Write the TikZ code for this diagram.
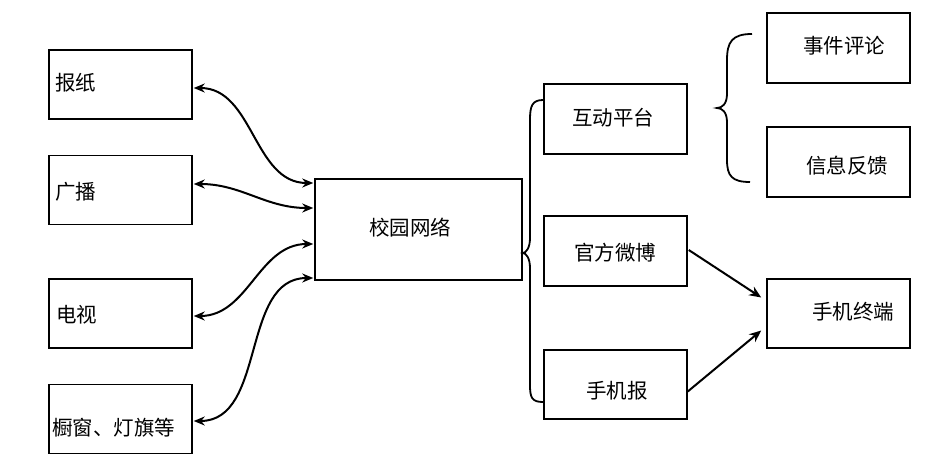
\documentclass[tikz,border=0pt]{standalone}
\usepackage{fontspec}
\newfontfamily\cjk{Noto Sans CJK SC}
\usetikzlibrary{arrows.meta}
\begin{document}
\begin{tikzpicture}[x=1pt,y=-1pt,
  box/.style={draw,line width=1.5pt,minimum width=143pt,minimum height=69pt,inner sep=0pt},
  txt/.style={font=\cjk\fontsize{20.5}{23}\selectfont,inner sep=0pt},
  conn/.style={line width=2pt,{Stealth[length=11pt,width=9pt]}-{Stealth[length=11pt,width=9pt]}},
  arr/.style={line width=2pt,-{Stealth[length=12pt,width=10pt]}},
  brace/.style={line width=1.8pt}]
\useasboundingbox (0,0) rectangle (929,465);
% left boxes
\node[box] (bz) at (120.5,84.5) {};
\node[box] (gb) at (120.5,190) {};
\node[box] (ds) at (120.5,313.5) {};
\node[box] (cc) at (120.5,419) {};
\node[txt,anchor=west] (bzt) at (55,83) {报纸};
\node[txt,anchor=west] (gbt) at (55,192) {广播};
\node[txt,anchor=west] (dst) at (56,315) {电视};
\node[txt,anchor=west] (cct) at (52,428) {橱窗、灯旗等};
% centre
\node[box,minimum width=207pt,minimum height=101pt] (xy) at (418.5,229.5) {};
\node[txt] (xyt) at (410,228) {校园网络};
% middle column
\node[box,minimum height=70pt] (hd) at (615.5,119) {};
\node[box,minimum height=70pt] (gf) at (615.5,251) {};
\node[box] (sjb) at (615.5,384.5) {};
\node[txt] (hdt) at (613,118) {互动平台};
\node[txt] (gft) at (615,253) {官方微博};
\node[txt] (sjbt) at (617,391) {手机报};
% right column
\node[box,minimum height=70pt] (sj) at (838.5,48) {};
\node[box,minimum height=70pt] (xx) at (838.5,162) {};
\node[box] (zd) at (838.5,313.5) {};
\node[txt] (sjt) at (844,46) {事件评论};
\node[txt] (xxt) at (847,166) {信息反馈};
\node[txt] (zdt) at (853,312) {手机终端};
% left connectors
\draw[conn] ([shift={(1,3.5)}]bz.east) to[out=0,in=180] ([shift={(-1,-46.5)}]xy.west);
\draw[conn] ([shift={(1,-6)}]gb.east) to[out=0,in=180] ([shift={(-1,-21.5)}]xy.west);
\draw[conn] ([shift={(1,2.5)}]ds.east) to[out=0,in=180] ([shift={(-1,14.5)}]xy.west);
\draw[conn] ([shift={(1,2)}]cc.east) to[out=0,in=180] ([shift={(-1,48.5)}]xy.west);
% braces
\draw[brace] ([shift={(0,-19)}]hd.west) .. controls (532,100) and (530,106) .. (530,120)
  -- (530,238) .. controls (530,248) and (526,253) .. (xy.east |- 0,253)
  .. controls (526,253) and (530,258) .. (530,268)
  -- (530,385) .. controls (530,398) and (532,402) .. ([shift={(0,17.5)}]sjb.west);
\draw[brace] (752,34) .. controls (732,34) and (727,42) .. (727,60)
  -- (727,94) .. controls (727,104) and (722,108) .. (717,108)
  .. controls (722,108) and (727,112) .. (727,122)
  -- (727,160) .. controls (727,176) and (732,182) .. (750,182);
% right arrows
\draw[arr] ([shift={(1,-1)}]gf.east) -- ([shift={(-5,-16)}]zd.west);
\draw[arr] ([shift={(0,7)}]sjb.east) -- ([shift={(-5,17)}]zd.west);
\end{tikzpicture}
\end{document}
